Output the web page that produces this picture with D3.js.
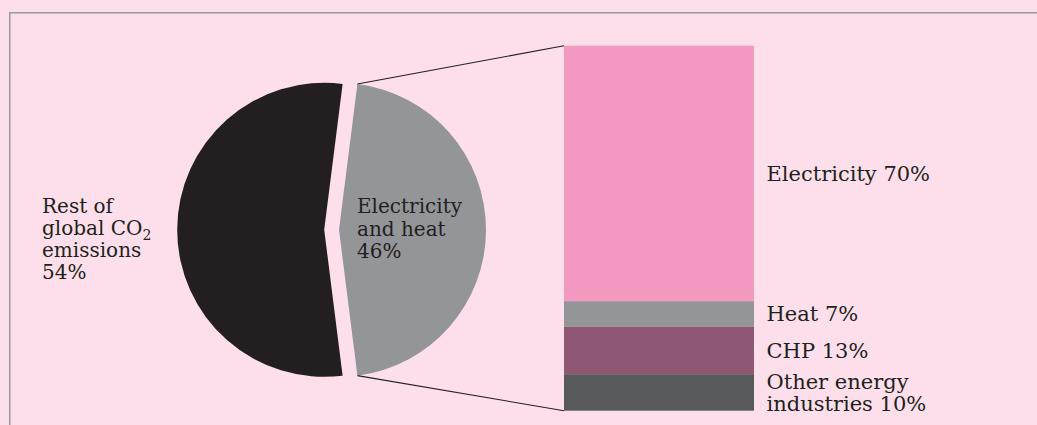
<!DOCTYPE html>
<html>
<head>
<meta charset="utf-8">
<script src="https://cdn.jsdelivr.net/npm/d3@7"></script>
<style>
  html, body { margin: 0; padding: 0; background: #fcdfea; }
  svg { display: block; }
  text { font-family: "DejaVu Serif", serif; fill: #231f20; }
</style>
</head>
<body>
<svg id="chart" width="1037" height="425"></svg>
<script>
// ---- data ----
const pieLabels = ["Electricity and heat", "Rest of global CO2 emissions"];
const pieValues = [46, 54];
const pieColors = ["#939598", "#231f20"];

const barCategories = ["Electricity", "Heat", "CHP", "Other energy industries"];
const barValues = [70, 7, 13, 10];
const barColors = ["#f49ac1", "#939598", "#8e5873", "#58595b"];
const barLabelLines = [["Electricity 70%"], ["Heat 7%"], ["CHP 13%"], ["Other energy", "industries 10%"]];

// ---- layout ----
const svg = d3.select("#chart");
const W = 1037, H = 425;

svg.append("rect").attr("width", W).attr("height", H).attr("fill", "#fcdfea");
// frame (top + left)
svg.append("path")
  .attr("d", `M9.75,${H} L9.75,12.75 L${W},12.75`)
  .attr("fill", "none").attr("stroke", "#9a9a9c").attr("stroke-width", 1.5);

// ---- pie ----
const cx = 331.6, cy = 229.8, R = 147, explode = 7.4;
const total = d3.sum(pieValues);
const start = Math.PI / 2 - Math.PI * pieValues[0] / total;
const pie = d3.pie().sort(null).startAngle(start).endAngle(start + 2 * Math.PI);
const arcs = pie(pieValues);
const arcGen = d3.arc().innerRadius(0).outerRadius(R);

const sliceOffset = a => {
  const m = (a.startAngle + a.endAngle) / 2;
  return [explode * Math.sin(m), -explode * Math.cos(m)];
};

svg.selectAll("path.slice").data(arcs).join("path")
  .attr("class", "slice")
  .attr("d", arcGen)
  .attr("fill", (d, i) => pieColors[i])
  .attr("transform", d => {
    const [ox, oy] = sliceOffset(d);
    return `translate(${cx + ox},${cy + oy})`;
  });

// ---- bar ----
const barX = 564, barW = 190, barTop = 45.7, barBottom = 410.7;
const y = d3.scaleLinear().domain([0, d3.sum(barValues)]).range([barTop, barBottom]);
const stacked = [];
let acc = 0;
barValues.forEach((v, i) => { stacked.push({ i, y0: acc, y1: acc + v }); acc += v; });

svg.selectAll("rect.seg").data(stacked).join("rect")
  .attr("class", "seg")
  .attr("x", barX).attr("width", barW)
  .attr("y", d => y(d.y0))
  .attr("height", d => y(d.y1) - y(d.y0))
  .attr("fill", d => barColors[d.i]);

// ---- connector lines ----
const g = arcs[0];
const [gox, goy] = sliceOffset(g);
const pt = a => [cx + gox + R * Math.sin(a), cy + goy - R * Math.cos(a)];
const pTop = pt(g.startAngle), pBot = pt(g.endAngle);
svg.append("line").attr("x1", pTop[0]).attr("y1", pTop[1]).attr("x2", barX).attr("y2", y(0))
  .attr("stroke", "#231f20").attr("stroke-width", 1.1);
svg.append("line").attr("x1", pBot[0]).attr("y1", pBot[1]).attr("x2", barX).attr("y2", y(total === 0 ? 0 : d3.sum(barValues)))
  .attr("stroke", "#231f20").attr("stroke-width", 1.1);

// ---- bar labels ----
const lh = 22.5;
stacked.forEach(d => {
  const lines = barLabelLines[d.i];
  const mid = (y(d.y0) + y(d.y1)) / 2;
  const firstBase = mid + 7.5 - (lines.length - 1) * lh / 2;
  const t = svg.append("text").attr("x", barX + barW + 12.5).attr("font-size", 21);
  lines.forEach((l, k) => {
    t.append("tspan").attr("x", barX + barW + 12.5).attr("y", firstBase + k * lh).text(l);
  });
});

// ---- pie labels ----
const leftT = svg.append("text").attr("font-size", 20);
leftT.append("tspan").attr("x", 42).attr("y", 212.7).text("Rest of");
const l2 = leftT.append("tspan").attr("x", 42).attr("y", 234.9).text("global CO");
leftT.append("tspan").attr("font-size", 14).attr("dy", 5).text("2");
leftT.append("tspan").attr("x", 42).attr("y", 257).text("emissions");
leftT.append("tspan").attr("x", 42).attr("y", 279.2).text(pieValues[1] + "%");

const rightT = svg.append("text").attr("font-size", 20);
rightT.append("tspan").attr("x", 357).attr("y", 213.3).text("Electricity");
rightT.append("tspan").attr("x", 357).attr("y", 235.5).text("and heat");
rightT.append("tspan").attr("x", 357).attr("y", 257.7).text(pieValues[0] + "%");
</script>
</body>
</html>
